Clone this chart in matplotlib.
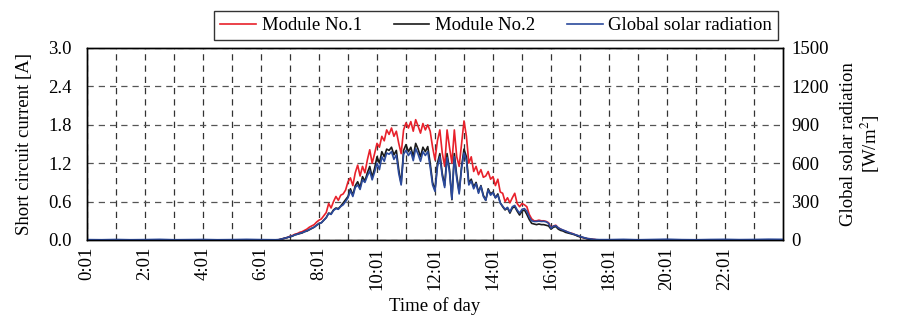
import numpy as np
import matplotlib
matplotlib.use("Agg")
import matplotlib.pyplot as plt

plt.rcParams["font.family"] = ["Liberation Serif", "DejaVu Serif"]
plt.rcParams["mathtext.fontset"] = "stix"

# time axis in minutes after 0:01 (night every 30 min, daytime every 5 min)
time_min = np.concatenate([np.arange(0, 390, 30), np.arange(390, 1066, 5), np.arange(1080, 1441, 30)])

night_zero = [0.0] * 13

# Module No.1 short circuit current [A], 6:30 .. 17:45 every 5 min
module1_day = [
    0.00, 0.00, 0.01, 0.02, 0.03, 0.04, 0.06, 0.07, 0.09, 0.10, 0.12, 0.13,
    0.15, 0.17, 0.20, 0.22, 0.24, 0.28, 0.31, 0.33, 0.38, 0.43, 0.57, 0.50,
    0.60, 0.68, 0.62, 0.70, 0.72, 0.78, 0.91, 0.97, 0.85, 1.05, 1.17, 1.00,
    1.15, 1.05, 1.25, 1.41, 1.20, 1.35, 1.51, 1.45, 1.62, 1.55, 1.72, 1.65,
    1.75, 1.62, 1.70, 1.51, 1.35, 1.72, 1.83, 1.75, 1.85, 1.70, 1.88, 1.78,
    1.67, 1.82, 1.72, 1.80, 1.70, 1.45, 1.25, 1.55, 1.72, 1.36, 1.15, 1.72,
    1.45, 1.20, 1.72, 1.30, 1.15, 1.50, 1.86, 1.62, 1.20, 1.30, 1.07, 1.15,
    1.02, 1.10, 0.98, 1.00, 1.07, 0.95, 0.99, 0.85, 0.95, 0.75, 0.73, 0.60,
    0.66, 0.58, 0.66, 0.73, 0.57, 0.52, 0.57, 0.55, 0.52, 0.40, 0.33, 0.30,
    0.30, 0.31, 0.30, 0.30, 0.29, 0.27, 0.19, 0.22, 0.23, 0.19, 0.17, 0.15,
    0.14, 0.12, 0.11, 0.10, 0.08, 0.07, 0.05, 0.04, 0.03, 0.02, 0.02, 0.01,
    0.01, 0.00, 0.00, 0.00,
]

# Module No.2 short circuit current [A]
module2_day = [
    0.00, 0.00, 0.01, 0.02, 0.03, 0.04, 0.05, 0.06, 0.08, 0.09, 0.10, 0.11,
    0.13, 0.14, 0.16, 0.18, 0.20, 0.23, 0.26, 0.27, 0.31, 0.35, 0.42, 0.41,
    0.47, 0.50, 0.49, 0.53, 0.58, 0.63, 0.68, 0.80, 0.70, 0.85, 0.91, 0.82,
    0.99, 0.92, 1.05, 1.15, 0.98, 1.12, 1.30, 1.20, 1.38, 1.30, 1.42, 1.40,
    1.45, 1.33, 1.40, 1.10, 0.88, 1.40, 1.49, 1.38, 1.45, 1.30, 1.51, 1.42,
    1.30, 1.45, 1.38, 1.46, 1.20, 0.90, 0.78, 1.20, 1.35, 1.04, 0.85, 1.35,
    1.10, 0.63, 1.35, 1.00, 0.75, 1.15, 1.42, 1.30, 0.89, 0.95, 0.83, 0.90,
    0.75, 0.85, 0.70, 0.62, 0.80, 0.72, 0.75, 0.66, 0.72, 0.58, 0.52, 0.47,
    0.50, 0.42, 0.50, 0.52, 0.45, 0.39, 0.45, 0.47, 0.40, 0.32, 0.26, 0.25,
    0.24, 0.25, 0.24, 0.24, 0.23, 0.22, 0.17, 0.20, 0.21, 0.17, 0.15, 0.14,
    0.12, 0.11, 0.10, 0.09, 0.08, 0.06, 0.05, 0.04, 0.03, 0.02, 0.01, 0.01,
    0.00, 0.00, 0.00, 0.00,
]

# Global solar radiation [W/m2]
radiation_am = [3, 2, 4, 2, 3, 5, 2, 3, 4, 2, 3, 5, 3]
radiation_day = [
    2, 3, 5, 10, 15, 20, 27, 32, 40, 45, 52, 57,
    65, 72, 82, 92, 100, 115, 128, 135, 155, 175, 208, 200,
    230, 245, 240, 262, 275, 300, 330, 385, 340, 410, 430, 395,
    470, 450, 500, 540, 470, 530, 600, 550, 650, 615, 680, 670,
    690, 630, 665, 520, 430, 670, 700, 660, 690, 620, 715, 670,
    615, 690, 660, 690, 570, 430, 380, 570, 650, 500, 410, 645,
    530, 320, 650, 480, 360, 560, 680, 620, 430, 460, 400, 440,
    365, 420, 340, 310, 390, 350, 370, 330, 350, 290, 265, 240,
    255, 220, 260, 270, 235, 210, 240, 245, 225, 180, 150, 145,
    145, 148, 145, 146, 142, 130, 92, 108, 112, 95, 85, 78,
    70, 62, 55, 48, 42, 36, 28, 22, 17, 12, 9, 6,
    5, 4, 3, 3,
]
radiation_pm = [3, 5, 2, 4, 6, 3, 2, 4, 5, 3, 4, 6, 5]

module1 = night_zero + module1_day + night_zero
module2 = night_zero + module2_day + night_zero
radiation = radiation_am + radiation_day + radiation_pm

tick_pos = np.arange(0, 1440, 120)
tick_labels = ["0:01", "2:01", "4:01", "6:01", "8:01", "10:01",
               "12:01", "14:01", "16:01", "18:01", "20:01", "22:01"]

fs = 13.5

fig = plt.figure(figsize=(9.1, 3.21), dpi=100)
ax = fig.add_axes([87 / 910, 81 / 321, 696 / 910, 192 / 321])
ax2 = ax.twinx()

l1, = ax.plot(time_min, module1, color="#e8212b", lw=1.2, label="Module No.1")
l2, = ax.plot(time_min, module2, color="#1a1a1a", lw=1.2, label="Module No.2")
l3, = ax2.plot(time_min, radiation, color="#2b4a9c", lw=1.2, label="Global solar radiation")

ax.set_xlim(0, 1440)
ax.set_ylim(0, 3.0)
ax2.set_ylim(0, 1500)
ax.set_yticks(np.arange(0, 3.01, 0.6))
ax.set_yticklabels([f"{v:.1f}" for v in np.arange(0, 3.01, 0.6)])
ax2.set_yticks(np.arange(0, 1501, 300))
ax.set_xticks(tick_pos)
ax.set_xticklabels(tick_labels, rotation=90)
ax.set_xticks(np.arange(60, 1440, 120), minor=True)

ax.tick_params(axis="y", length=0, labelsize=fs, pad=11)
ax.tick_params(axis="x", which="both", length=0, labelsize=fs, pad=5)
ax2.tick_params(axis="y", length=0, labelsize=fs, pad=6)

ax.grid(True, which="both", axis="x", color="#333333", ls=(0, (5, 4)), lw=0.9)
ax.grid(True, which="major", axis="y", color="#555555", ls=(0, (5, 4)), lw=0.9)
ax.set_axisbelow(True)

for sp in ax.spines.values():
    sp.set_linewidth(1.0)
for sp in ax2.spines.values():
    sp.set_linewidth(1.0)

ax.set_xlabel("Time of day", fontsize=fs, labelpad=5)
ax.set_ylabel("Short circuit current [A]", fontsize=fs, labelpad=11)
ax2.set_ylabel("Global solar radiation\n[W/m$^2$]", fontsize=fs, labelpad=8, linespacing=1.1)

fig.legend(handles=[l1, l2, l3], loc="upper right", bbox_to_anchor=(778 / 910, 1 - 11 / 321),
           ncol=3, fontsize=fs, frameon=True, fancybox=False, edgecolor="black",
           borderaxespad=0, handlelength=1.9, handletextpad=0.3, columnspacing=1.7,
           borderpad=0.32)

fig.savefig("out.png", dpi=100)
